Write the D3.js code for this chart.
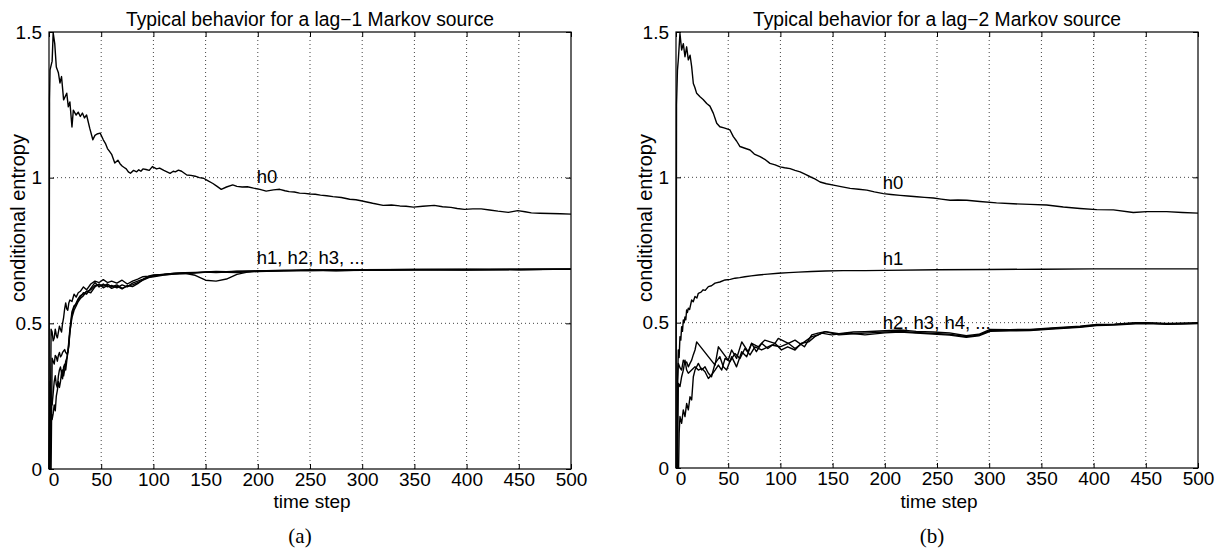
<!DOCTYPE html>
<html>
<head>
<meta charset="utf-8">
<script src="https://cdn.jsdelivr.net/npm/d3@7"></script>
<style>
  body { margin: 0; background: #fff; }
  svg { display: block; }
</style>
</head>
<body>
<script>
// axis ticks, shared by both panels
var xTicks = [0, 50, 100, 150, 200, 250, 300, 350, 400, 450, 500];
var yTicks = [0, 0.5, 1, 1.5];

// ---- panel (a): lag-1 source ----
// h0, [time step, entropy]
var h0a = [[0,0],[0.5,1.27],[1,1.37],[3,1.40],[4,1.497],[5.5,1.46],[7,1.38],[9,1.36],[10.5,1.325],[12,1.347],
  [14,1.267],[17,1.29],[18.5,1.243],[20,1.26],[22,1.174],[23.3,1.232],[26,1.215],[28,1.225],[30,1.21],[32,1.222],
  [34,1.205],[36,1.215],[39,1.17],[42,1.13],[44,1.145],[46,1.15],[49,1.153],[52,1.13],[54,1.118],[56,1.10],
  [58,1.09],[60,1.08],[63,1.05],[66,1.06],[68,1.048],[70,1.04],[72,1.035],[74,1.03],[76,1.02],[78,1.015],
  [81,1.025],[84,1.02],[86,1.027],[88,1.022],[90,1.03],[93,1.028],[96,1.025],[99,1.038],[103,1.03],[106,1.033],
  [110,1.025],[113,1.02],[116,1.015],[119,1.022],[121,1.02],[124,1.026],[127,1.022],[132,1.009],[136,1.008],[140,1.005],
  [144,1.0],[148,0.998],[152,0.99],[157,0.98],[161,0.97],[165,0.96],[170,0.968],[176,0.975],[180,0.97],[185,0.968],
  [190,0.969],[196,0.964],[202,0.96],[208,0.954],[215,0.958],[221,0.96],[226,0.955],[230,0.952],[235,0.951],[240,0.947],
  [245,0.946],[250,0.944],[255,0.943],[260,0.94],[266,0.938],[272,0.935],[280,0.932],[288,0.926],[294,0.924],[300,0.92],
  [310,0.912],[320,0.905],[328,0.906],[336,0.903],[342,0.902],[349,0.899],[358,0.902],[369,0.905],[377,0.9],[385,0.898],
  [391,0.894],[398,0.891],[406,0.893],[414,0.893],[422,0.889],[430,0.885],[440,0.881],[449,0.887],[456,0.883],[462,0.879],
  [470,0.878],[480,0.877],[490,0.876],[500,0.875]];

// h1..h4 share one time grid
var tA = [0,1,2,3,4,5,6,7,8,9,
  10,11,12,13,14,15,16,17,18,19,
  20,22,24,26,28,30,33,36,40,44,
  48,52,56,60,65,70,75,80,85,90,
  95,100,110,120,130,140,150,160,170,180,
  190,200,225,250,275,300,350,400,450,500];
var h1a = [0,0,0.48,0.47,0.44,0.45,0.48,0.46,0.45,0.47,
  0.49,0.48,0.47,0.50,0.52,0.55,0.57,0.55,0.545,0.57,
  0.58,0.575,0.60,0.59,0.605,0.61,0.625,0.615,0.635,0.645,
  0.64,0.65,0.64,0.645,0.638,0.648,0.635,0.645,0.652,0.66,
  0.662,0.666,0.668,0.672,0.674,0.675,0.676,0.674,0.676,0.678,
  0.68,0.679,0.681,0.682,0.68,0.683,0.684,0.685,0.684,0.686];
var h2a = [0,0,0,0.38,0.37,0.36,0.39,0.385,0.37,0.39,
  0.40,0.385,0.39,0.40,0.405,0.41,0.40,0.395,0.40,0.42,
  0.47,0.53,0.555,0.57,0.585,0.595,0.60,0.61,0.615,0.63,
  0.632,0.628,0.635,0.625,0.632,0.62,0.628,0.632,0.64,0.648,
  0.656,0.662,0.667,0.67,0.672,0.665,0.648,0.645,0.652,0.668,
  0.676,0.678,0.68,0.683,0.681,0.682,0.684,0.683,0.685,0.686];
var h3a = [0,0.30,0.24,0.22,0.26,0.30,0.32,0.29,0.28,0.32,
  0.34,0.35,0.33,0.34,0.32,0.34,0.37,0.38,0.40,0.44,
  0.48,0.54,0.56,0.565,0.58,0.59,0.605,0.60,0.62,0.64,
  0.625,0.635,0.625,0.63,0.622,0.632,0.625,0.638,0.645,0.652,
  0.66,0.664,0.669,0.671,0.673,0.674,0.675,0.677,0.675,0.674,
  0.677,0.68,0.682,0.681,0.683,0.684,0.685,0.684,0.686,0.686];
var h4a = [0,0,0.20,0.17,0.19,0.22,0.20,0.25,0.27,0.30,
  0.28,0.30,0.33,0.31,0.35,0.36,0.34,0.37,0.40,0.43,
  0.47,0.52,0.545,0.56,0.575,0.585,0.595,0.61,0.605,0.625,
  0.635,0.622,0.63,0.62,0.628,0.618,0.63,0.626,0.636,0.65,
  0.658,0.66,0.666,0.669,0.671,0.673,0.676,0.678,0.677,0.679,
  0.678,0.68,0.681,0.683,0.684,0.683,0.685,0.686,0.685,0.686];

// ---- panel (b): lag-2 source ----
var h0b = [[0,0],[0.5,1.25],[1.4,1.369],[2.2,1.404],[3.8,1.495],[5.4,1.438],[7,1.46],[8.6,1.415],[10.2,1.449],[11.8,1.404],
  [13.5,1.42],[15,1.381],[16.6,1.323],[18,1.31],[19.8,1.289],[23,1.277],[26,1.268],[29.4,1.254],[32.5,1.245],[35.8,1.22],
  [39,1.186],[42,1.174],[46,1.17],[51.7,1.163],[54.9,1.14],[58,1.125],[61.3,1.106],[66,1.1],[70.9,1.094],[75,1.08],
  [80.5,1.071],[85,1.062],[90,1.048],[95,1.043],[99.7,1.036],[104,1.033],[109.3,1.03],[114,1.024],[118.9,1.019],[124,1.01],
  [128.5,1.002],[133,0.995],[138,0.984],[144,0.978],[150.8,0.973],[158,0.968],[166.8,0.962],[175,0.959],[182.8,0.956],[190,0.95],
  [198.7,0.944],[206,0.941],[214.7,0.938],[222,0.936],[230.7,0.933],[238,0.931],[246.6,0.929],[254,0.925],[262.6,0.921],[270,0.922],
  [278.5,0.921],[291,0.917],[307,0.912],[323,0.909],[339,0.907],[355,0.905],[371,0.898],[387,0.893],[403,0.889],[419,0.888],
  [438,0.879],[451,0.882],[470,0.882],[485,0.879],[500,0.877]];
var h1b = [[0,0],[1,0],[1.5,0.30],[2.2,0.406],[3,0.38],[3.8,0.452],[4.6,0.44],[5.4,0.486],[6.2,0.47],[7,0.509],
  [7.8,0.50],[8.6,0.52],[9.4,0.51],[10.2,0.544],[11,0.535],[11.8,0.55],[13,0.545],[15,0.578],[16.5,0.572],[18.2,0.59],
  [20,0.585],[21.4,0.601],[24,0.605],[26,0.613],[28,0.611],[31,0.624],[34,0.627],[37.4,0.636],[42,0.64],[47,0.647],
  [52,0.649],[56.5,0.653],[61,0.655],[66,0.658],[72,0.661],[79,0.664],[88,0.667],[98,0.67],[108,0.672],[117,0.674],
  [130,0.676],[143,0.678],[160,0.679],[181,0.679],[200,0.68],[250,0.682],[300,0.683],[350,0.684],[400,0.685],[450,0.685],
  [500,0.685]];
var h2b = [[0,0],[1,0],[1.5,0.30],[2.2,0.36],[3.8,0.345],[5.4,0.337],[7,0.371],[8.6,0.36],[10.2,0.365],[11.8,0.348],
  [13.4,0.36],[15,0.371],[16.6,0.39],[18.2,0.406],[19.8,0.434],[37.4,0.354],[40.6,0.417],[50,0.371],[53.3,0.406],[58,0.377],
  [63,0.434],[69,0.4],[72.5,0.429],[79,0.417],[85,0.44],[94.8,0.429],[98,0.446],[107.6,0.429],[114,0.44],[123,0.417],
  [130,0.458],[136,0.464],[143,0.469],[156,0.462],[170,0.468],[181,0.469],[200,0.472],[215,0.475],[230,0.47],[246,0.468],
  [262,0.465],[278,0.455],[290,0.46],[301,0.477],[320,0.476],[339,0.477],[360,0.482],[387,0.488],[403,0.494],[420,0.495],
  [440,0.5],[451,0.5],[470,0.497],[485,0.498],[500,0.5]];
var h3b = [[0,0],[1.5,0],[2.2,0.291],[3.8,0.28],[5.4,0.314],[7,0.337],[8.6,0.371],[10.2,0.337],[11.8,0.326],[15,0.337],
  [18.2,0.348],[21.4,0.337],[24.6,0.343],[27.8,0.331],[31,0.308],[34,0.32],[37.4,0.337],[40.6,0.354],[43.8,0.337],[47,0.377],
  [51.7,0.366],[56.5,0.394],[61.3,0.377],[66,0.411],[70.9,0.389],[75.6,0.417],[82,0.406],[91.6,0.423],[99.7,0.417],[107.6,0.429],
  [114,0.411],[123,0.434],[130,0.452],[136,0.458],[143,0.469],[156,0.458],[170,0.462],[181,0.464],[200,0.468],[215,0.47],
  [230,0.466],[246,0.463],[262,0.46],[278,0.452],[290,0.457],[301,0.473],[320,0.474],[339,0.475],[360,0.48],[387,0.486],
  [403,0.492],[420,0.494],[440,0.498],[451,0.499],[470,0.496],[485,0.497],[500,0.498]];
var h4b = [[0,0],[2.5,0],[3,0.12],[3.8,0.177],[5.4,0.154],[7,0.2],[8.6,0.177],[10.2,0.222],[11.8,0.2],[13.4,0.245],
  [15,0.234],[16.6,0.314],[18.2,0.337],[21.4,0.36],[24.6,0.337],[27.8,0.348],[31,0.326],[34,0.314],[37.4,0.36],[42,0.383],
  [45.3,0.348],[48.5,0.337],[53.3,0.383],[58,0.348],[62.9,0.4],[67.7,0.383],[72.5,0.429],[77,0.4],[82,0.429],[88,0.411],
  [94.8,0.429],[101,0.406],[107,0.417],[114,0.406],[120,0.429],[127,0.434],[133,0.452],[139.5,0.464],[149,0.458],[165,0.464],
  [181,0.458],[200,0.465],[215,0.468],[230,0.464],[246,0.461],[262,0.457],[278,0.45],[290,0.455],[301,0.47],[320,0.472],
  [339,0.473],[360,0.478],[387,0.484],[403,0.49],[420,0.492],[440,0.496],[451,0.497],[470,0.494],[485,0.495],[500,0.497]];

// curve labels, in data units
var labelsA = [{t:199, v:0.982, text:"h0"}, {t:199, v:0.704, text:"h1, h2, h3, ..."}];
var labelsB = [{t:198, v:0.96, text:"h0"}, {t:198, v:0.698, text:"h1"}, {t:198, v:0.478, text:"h2, h3, h4, ..."}];

var sans = "'Liberation Sans', Arial, Helvetica, sans-serif";
var serif = "'Liberation Serif', 'Times New Roman', serif";

var svg = d3.select("body").append("svg")
    .attr("width", 1215)
    .attr("height", 548);

svg.append("rect").attr("width", 1215).attr("height", 548).attr("fill", "#fff");

function zipGrid(t, v) {
  return t.map(function(d, i){ return [d, v[i]]; });
}

function drawPanel(cfg) {
  var x = d3.scaleLinear().domain([0, 500]).range([cfg.left, cfg.right]);
  var y = d3.scaleLinear().domain([0, 1.5]).range([cfg.bottom, cfg.top]);
  var g = svg.append("g");

  // dotted grid
  g.append("g").selectAll("line")
    .data(xTicks.slice(1, -1))
    .enter().append("line")
      .attr("x1", function(d){ return x(d); })
      .attr("x2", function(d){ return x(d); })
      .attr("y1", cfg.top).attr("y2", cfg.bottom)
      .attr("stroke", "#444").attr("stroke-width", 1)
      .attr("stroke-dasharray", "1,3");
  g.append("g").selectAll("line")
    .data(yTicks.slice(1, -1))
    .enter().append("line")
      .attr("y1", function(d){ return y(d); })
      .attr("y2", function(d){ return y(d); })
      .attr("x1", cfg.left).attr("x2", cfg.right)
      .attr("stroke", "#444").attr("stroke-width", 1)
      .attr("stroke-dasharray", "1,3");

  // curves
  var line = d3.line()
    .x(function(d){ return x(d[0]); })
    .y(function(d){ return y(d[1]); });
  cfg.curves.forEach(function(c){
    g.append("path")
      .datum(c)
      .attr("d", line)
      .attr("fill", "none")
      .attr("stroke", "#000")
      .attr("stroke-width", 1.4)
      .attr("stroke-linejoin", "round");
  });

  // axes, ticks pointing inward
  var xb = g.append("g")
    .attr("transform", "translate(0," + cfg.bottom + ")")
    .call(d3.axisBottom(x).tickValues(xTicks).tickSize(-5).tickPadding(3).tickFormat(d3.format("d")));
  g.append("g")
    .attr("transform", "translate(0," + cfg.top + ")")
    .call(d3.axisTop(x).tickValues(xTicks).tickSize(-5).tickFormat(""));
  var yl = g.append("g")
    .attr("transform", "translate(" + cfg.left + ",0)")
    .call(d3.axisLeft(y).tickValues(yTicks).tickSize(-5).tickPadding(7).tickFormat(function(d){ return String(d); }));
  g.append("g")
    .attr("transform", "translate(" + cfg.right + ",0)")
    .call(d3.axisRight(y).tickValues(yTicks).tickSize(-5).tickFormat(""));

  g.selectAll(".domain").remove();
  g.selectAll(".tick line").attr("stroke", "#000");
  [xb, yl].forEach(function(a){
    a.attr("font-family", sans).attr("font-size", 19);
    a.selectAll("text").attr("fill", "#000");
  });
  xb.selectAll(".tick text").filter(function(d){ return d === 0; }).attr("dx", 4.5);

  // box
  g.append("rect")
    .attr("x", cfg.left).attr("y", cfg.top)
    .attr("width", cfg.right - cfg.left).attr("height", cfg.bottom - cfg.top)
    .attr("fill", "none").attr("stroke", "#000").attr("stroke-width", 1.2);

  // curve labels
  g.selectAll(".clabel")
    .data(cfg.labels)
    .enter().append("text")
      .attr("class", "clabel")
      .attr("x", function(d){ return x(d.t); })
      .attr("y", function(d){ return y(d.v); })
      .attr("font-family", sans).attr("font-size", 18.5)
      .text(function(d){ return d.text; });

  // title and axis labels
  var mid = (cfg.left + cfg.right) / 2;
  g.append("text")
    .attr("x", mid).attr("y", 26)
    .attr("text-anchor", "middle")
    .attr("font-family", sans).attr("font-size", 19.3)
    .text(cfg.title);
  g.append("text")
    .attr("x", mid + 2).attr("y", 508)
    .attr("text-anchor", "middle")
    .attr("font-family", sans).attr("font-size", 19)
    .text("time step");
  g.append("text")
    .attr("transform", "translate(" + cfg.ylabelX + ",218) rotate(-90)")
    .attr("text-anchor", "middle")
    .attr("font-family", sans).attr("font-size", 20)
    .text("conditional entropy");
  g.append("text")
    .attr("x", cfg.captionX).attr("y", 543)
    .attr("text-anchor", "middle")
    .attr("font-family", serif).attr("font-size", 21)
    .text(cfg.caption);
}

drawPanel({
  left: 49, right: 571, top: 32, bottom: 469,
  title: "Typical behavior for a lag\u22121 Markov source",
  curves: [h0a, zipGrid(tA, h1a), zipGrid(tA, h2a), zipGrid(tA, h3a), zipGrid(tA, h4a)],
  labels: labelsA,
  ylabelX: 25, caption: "(a)", captionX: 300
});

drawPanel({
  left: 676, right: 1198, top: 32, bottom: 468,
  title: "Typical behavior for a lag\u22122 Markov source",
  curves: [h0b, h1b, h2b, h3b, h4b],
  labels: labelsB,
  ylabelX: 652, caption: "(b)", captionX: 932
});
</script>
</body>
</html>
